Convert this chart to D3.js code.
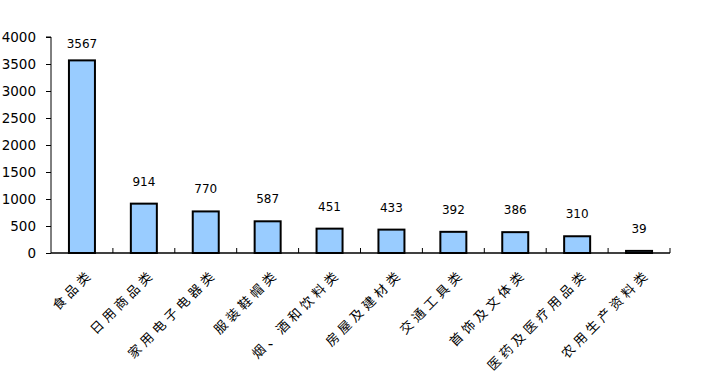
<!DOCTYPE html>
<html><head><meta charset="utf-8">
<script src="https://cdn.jsdelivr.net/npm/d3@7/dist/d3.min.js"></script>
<style>body{margin:0;background:#fff;}svg{display:block;}</style>
</head><body>
<script>
const categories = ["食品类","日用商品类","家用电子电器类","服装鞋帽类","烟、酒和饮料类","房屋及建材类","交通工具类","首饰及文体类","医药及医疗用品类","农用生产资料类"];
const values = [3567,914,770,587,451,433,392,386,310,39];
const yTicks = [0,500,1000,1500,2000,2500,3000,3500,4000];

const W=702,H=377;
const m={left:51,right:32,top:37,bottom:124};
const svg=d3.select("body").append("svg").attr("width",W).attr("height",H);
const x=d3.scaleBand().domain(categories).range([m.left,W-m.right]).paddingInner(0.58).paddingOuter(0.29);
const xb=d3.scaleBand().domain(categories).range([m.left,W-m.right]);
const y=d3.scaleLinear().domain([0,4000]).range([H-m.bottom,m.top]);
const font="'Noto Sans CJK SC','DejaVu Sans',sans-serif";
const numFont="'DejaVu Sans',sans-serif";

// y axis
const ya=svg.append("g").attr("transform",`translate(${m.left},0)`)
 .call(d3.axisLeft(y).tickValues(yTicks).tickSize(5).tickPadding(10).tickFormat(d3.format("d")));
ya.selectAll("text").attr("font-family",numFont).attr("font-size",13.5).attr("fill","#000");
ya.selectAll("line,path").attr("stroke","#000");
ya.select("path").attr("d",`M-5,${y(4000)}H0V${y(0)}`);

// bars
svg.append("g").selectAll("rect").data(values).join("rect")
 .attr("x",(d,i)=>x(categories[i])).attr("width",x.bandwidth())
 .attr("y",d=>y(d)).attr("height",d=>y(0)-y(d))
 .attr("fill","#99CCFF").attr("stroke","#000").attr("stroke-width",2);

// x axis
const xa=svg.append("g").attr("transform",`translate(0,${y(0)})`);
xa.append("line").attr("x1",m.left).attr("x2",W-m.right).attr("stroke","#000").attr("stroke-width",1.5);
xa.selectAll("line.t").data(categories).join("line").attr("class","t")
 .attr("x1",d=>xb(d)+xb.bandwidth()).attr("x2",d=>xb(d)+xb.bandwidth())
 .attr("y1",0).attr("y2",-5).attr("stroke","#000");

// value labels
svg.append("g").selectAll("text").data(values).join("text")
 .attr("x",(d,i)=>x(categories[i])+x.bandwidth()/2).attr("y",d=>Math.max(y(d)-18,48))
 .attr("text-anchor","middle").attr("font-family",numFont).attr("font-size",12).attr("fill","#000")
 .text(d=>d);

// category labels
svg.append("g").selectAll("text").data(categories).join("text")
 .attr("transform",d=>`translate(${xb(d)+xb.bandwidth()/2+12},${y(0)+22}) rotate(-45)`)
 .attr("text-anchor","end").attr("font-family",font).attr("font-size",13).attr("letter-spacing",4).attr("fill","#000")
 .text(d=>d);
</script>
</body></html>
